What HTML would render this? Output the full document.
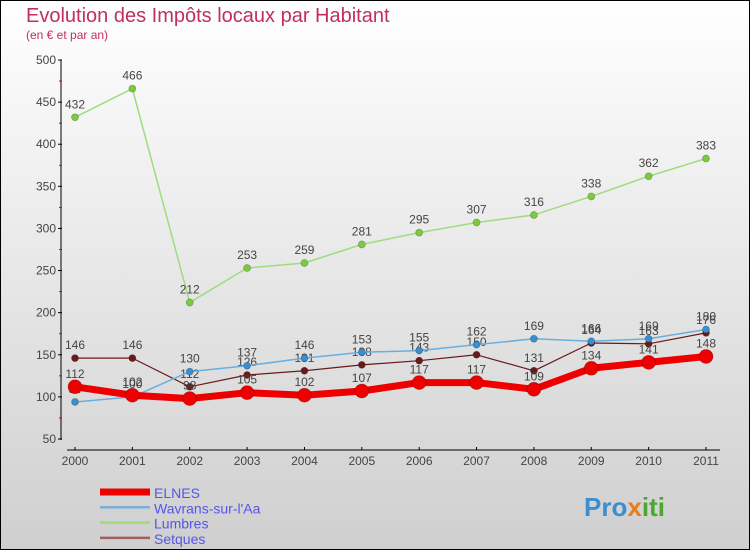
<!DOCTYPE html>
<html><head><meta charset="utf-8"><style>
body{margin:0}
svg{display:block;font-family:"Liberation Sans",sans-serif}
</style></head><body>
<svg id="c" width="750" height="550" xmlns="http://www.w3.org/2000/svg">
<defs><linearGradient id="bg" x1="0" y1="0" x2="0" y2="1"><stop offset="0" stop-color="#ffffff"/><stop offset="1" stop-color="#cfcfcf"/></linearGradient></defs>
<rect x="0.5" y="0.5" width="749" height="549" fill="url(#bg)" stroke="#000"/>
<text x="26" y="22" font-size="20" fill="#c0305a">Evolution des Impôts locaux par Habitant</text>
<text x="26" y="39" font-size="12" fill="#c0305a">(en € et par an)</text>
<g id="axes"></g><g id="series"></g><g id="legend"></g>
<text x="584" y="516" font-size="26" font-weight="bold" fill="#3a8fd0">Pro<tspan fill="#e87d1e">x</tspan><tspan fill="#4aa832">iti</tspan></text>
</svg>
<script>
const years=["2000","2001","2002","2003","2004","2005","2006","2007","2008","2009","2010","2011"];
const yTicks=[50,100,150,200,250,300,350,400,450,500];
const elnes=[112,102,98,105,102,107,117,117,109,134,141,148];
const wavrans=[94,100,130,137,146,153,155,162,169,166,169,180];
const lumbres=[432,466,212,253,259,281,295,307,316,338,362,383];
const setques=[146,146,112,126,131,138,143,150,131,164,163,176];
const NS="http://www.w3.org/2000/svg";
const X=i=>75+i*(706-75)/11;
const Y=v=>439-(v-50)*(439-60)/450;
function mk(t,a,p){const e=document.createElementNS(NS,t);for(const k in a)e.setAttribute(k,a[k]);p.appendChild(e);return e;}
const ax=document.getElementById('axes');
let l=mk('line',{x1:61,y1:60,x2:61,y2:440,stroke:'#000'},ax);

l=mk('line',{x1:67,y1:450,x2:720,y2:450,stroke:'#000'},ax);

yTicks.forEach((v,i)=>{
 mk('line',{x1:58,y1:Y(v),x2:62,y2:Y(v),stroke:'#000'},ax);
 if(i<yTicks.length-1)mk('line',{x1:59,y1:Y(v+25),x2:62,y2:Y(v+25),stroke:'#d00'},ax);
 const t=mk('text',{x:56,y:Y(v)+4,'font-size':12,'text-anchor':'end',fill:'#444'},ax);t.textContent=v;
 
});
years.forEach((y,i)=>{
 mk('line',{x1:X(i),y1:447,x2:X(i),y2:450,stroke:'#000'},ax);
 const t=mk('text',{x:X(i),y:465,'font-size':12,'text-anchor':'middle',fill:'#444'},ax);t.textContent=y;
 
});
const S=[
 {n:'Setques',d:setques,c:'#6b1a1a',w:1.2,r:3.5,fc:'#6b1a1a',lc:'#a06060'},
 {n:'Lumbres',d:lumbres,c:'#9edc7c',w:1.5,r:3.5,fc:'#7acc3c',lc:'#9edc7c'},
 {n:'Wavrans-sur-l\'Aa',d:wavrans,c:'#6aaee0',w:1.5,r:3.5,fc:'#3a8fd0',lc:'#7ab0d8'},
 {n:'ELNES',d:elnes,c:'#ee0000',w:7,r:7,fc:'#ee0000',lc:'#ee0000'}];
const sg=document.getElementById('series');
S.forEach(s=>{
 const g=mk('g',{},sg);
 
 
 const p=mk('polyline',{points:s.d.map((v,i)=>X(i)+','+Y(v)).join(' '),fill:'none',stroke:s.c,'stroke-width':s.w,'stroke-linejoin':'round'},g);
 
 s.d.forEach((v,i)=>{
  const c=mk('circle',{cx:X(i),cy:Y(v),r:s.r,fill:s.fc,stroke:'rgba(0,0,0,0.25)','stroke-width':0.8},g);
  
  const t=mk('text',{x:X(i),y:Y(v)-9,'font-size':12,'text-anchor':'middle',fill:'#444'},g);t.textContent=v;
  
 });
});
const lg=document.getElementById('legend');
[S[3],S[2],S[1],S[0]].forEach((s,i)=>{
 const y=492+i*15.3;
 const g=mk('g',{},lg);
 
 mk('line',{x1:100,y1:y,x2:150,y2:y,stroke:s.lc,'stroke-width':s.n==='ELNES'?7:2.5},g);
 const t=mk('text',{x:154,y:y+6,'font-size':14,fill:'#5555ee'},g);t.textContent=s.n;
});
</script>
</body></html>
